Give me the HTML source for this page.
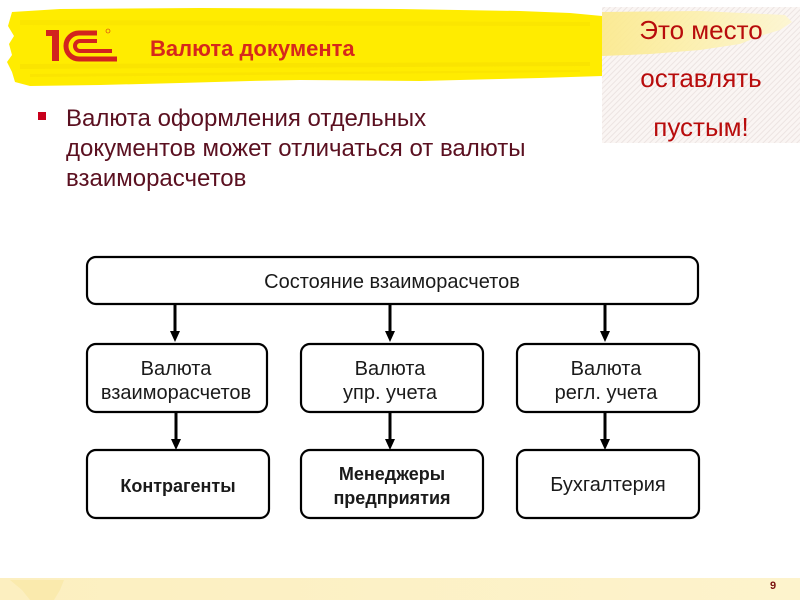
<!DOCTYPE html>
<html><head><meta charset="utf-8">
<style>
html,body{margin:0;padding:0;background:#fff;}
body{width:800px;height:600px;position:relative;overflow:hidden;font-family:"Liberation Sans",Arial,sans-serif;}
.t{position:absolute;white-space:nowrap;}
</style></head>
<body>
<svg width="800" height="600" style="position:absolute;left:0;top:0" xmlns="http://www.w3.org/2000/svg">
  <defs>
    <pattern id="hatch" width="4" height="4" patternUnits="userSpaceOnUse" patternTransform="rotate(45)">
      <rect width="4" height="4" fill="#faf5f3"/>
      <rect width="1" height="4" fill="#ece4e2"/>
    </pattern>
    <linearGradient id="yl" x1="0" x2="1" y1="0" y2="0">
      <stop offset="0" stop-color="#fbe98a"/>
      <stop offset="0.5" stop-color="#fcf0ac"/>
      <stop offset="1" stop-color="#fdf6d0"/>
    </linearGradient>
    <linearGradient id="ft" x1="0" x2="1" y1="0" y2="0">
      <stop offset="0" stop-color="#fcefc0"/>
      <stop offset="1" stop-color="#fdf3cc"/>
    </linearGradient>
  </defs>
  <!-- right hatched box -->
  <rect x="602" y="7" width="198" height="136" fill="url(#hatch)"/>
  <path d="M602 12 L700 11 L785 15 L792 22 L780 30 L760 36 L740 44 L700 50 L650 54 L602 56 Z" fill="url(#yl)" opacity="0.9"/>
  <!-- yellow brush band -->
  <path d="M12 12 L60 9 L200 8 L400 9 L520 11 L570 13 L602 16 L602 76 L540 78 L420 81 L300 80 L250 81 L180 83 L100 85 L30 86 L15 82 L12 72 L7 62 L12 55 L9 44 L14 36 L8 26 Z" fill="#ffec00"/>
  <path d="M20 20 L590 22 L590 26 L20 25 Z" fill="#f8e000" opacity="0.5"/>
  <path d="M20 64 L590 62 L590 66 L20 69 Z" fill="#f5dc00" opacity="0.45"/>
  <path d="M30 74 L580 70 L580 72 L30 77 Z" fill="#f5dc00" opacity="0.4"/>
  <!-- 1C logo -->
  <g fill="#d2231e">
    <rect x="52" y="30" width="7" height="31"/>
    <rect x="46" y="30" width="8" height="6"/>
  </g>
  <g fill="none" stroke="#d2231e" stroke-linecap="butt">
    <path d="M97 33 L79 33 A13 13 0 0 0 79 59 L117 59" stroke-width="5"/>
    <path d="M97 41 L80 41 A5 5 0 0 0 80 51 L112 51" stroke-width="4"/>
  </g>
  <circle cx="108" cy="31" r="2" fill="none" stroke="#d2231e" stroke-width="0.6"/>
  <!-- bullet -->
  <rect x="38" y="112" width="8" height="8" fill="#c8001c"/>
  <!-- diagram boxes -->
  <g fill="#fff" stroke="#000" stroke-width="2.2">
    <rect x="87" y="257" width="611" height="47" rx="9"/>
    <rect x="87" y="344" width="180" height="68" rx="9"/>
    <rect x="301" y="344" width="182" height="68" rx="9"/>
    <rect x="517" y="344" width="182" height="68" rx="9"/>
    <rect x="87" y="450" width="182" height="68" rx="9"/>
    <rect x="301" y="450" width="182" height="68" rx="9"/>
    <rect x="517" y="450" width="182" height="68" rx="9"/>
  </g>
  <!-- arrows -->
  <g stroke="#000" stroke-width="3">
    <line x1="175" y1="305" x2="175" y2="333"/>
    <line x1="390" y1="305" x2="390" y2="333"/>
    <line x1="605" y1="305" x2="605" y2="333"/>
    <line x1="176" y1="413" x2="176" y2="441"/>
    <line x1="390" y1="413" x2="390" y2="441"/>
    <line x1="605" y1="413" x2="605" y2="441"/>
  </g>
  <g fill="#000">
    <polygon points="170,331 180,331 175,342"/>
    <polygon points="385,331 395,331 390,342"/>
    <polygon points="600,331 610,331 605,342"/>
    <polygon points="171,439 181,439 176,450"/>
    <polygon points="385,439 395,439 390,450"/>
    <polygon points="600,439 610,439 605,450"/>
  </g>
  <!-- footer -->
  <rect x="0" y="578" width="800" height="22" fill="url(#ft)"/>
  <path d="M10 580 L64 580 L60 590 L54 600 L30 600 L22 590 Z" fill="#f8e59a" opacity="0.5"/>
</svg>

<div class="t" style="left:150px;top:36px;font-size:22px;font-weight:bold;color:#d6281c;">Валюта документа</div>

<div class="t" style="left:602px;top:15px;width:198px;text-align:center;font-size:26px;line-height:30px;color:#b80c0c;">Это место</div>
<div class="t" style="left:602px;top:63px;width:198px;text-align:center;font-size:26px;line-height:30px;color:#b80c0c;">оставлять</div>
<div class="t" style="left:602px;top:112px;width:198px;text-align:center;font-size:26px;line-height:30px;color:#b80c0c;">пустым!</div>

<div class="t" style="left:66px;top:104px;font-size:24px;line-height:30px;color:#5b1020;">Валюта оформления отдельных<br>документов может отличаться от валюты<br>взаиморасчетов</div>

<div class="t" style="left:192px;top:270px;width:400px;text-align:center;font-size:20px;line-height:24px;color:#1a1a1a;">Состояние взаиморасчетов</div>

<div class="t" style="left:76px;top:357px;width:200px;text-align:center;font-size:20px;line-height:24px;color:#1a1a1a;">Валюта<br>взаиморасчетов</div>
<div class="t" style="left:290px;top:357px;width:200px;text-align:center;font-size:20px;line-height:24px;color:#1a1a1a;">Валюта<br>упр. учета</div>
<div class="t" style="left:506px;top:357px;width:200px;text-align:center;font-size:20px;line-height:24px;color:#1a1a1a;">Валюта<br>регл. учета</div>

<div class="t" style="left:78px;top:474px;width:200px;text-align:center;font-size:18px;font-weight:bold;line-height:24px;color:#1a1a1a;">Контрагенты</div>
<div class="t" style="left:292px;top:462px;width:200px;text-align:center;font-size:18px;font-weight:bold;line-height:24px;color:#1a1a1a;">Менеджеры<br>предприятия</div>
<div class="t" style="left:508px;top:473px;width:200px;text-align:center;font-size:20px;line-height:24px;color:#1a1a1a;">Бухгалтерия</div>

<div class="t" style="left:770px;top:580px;font-size:11px;font-weight:bold;color:#7a1010;">9</div>
</body></html>
